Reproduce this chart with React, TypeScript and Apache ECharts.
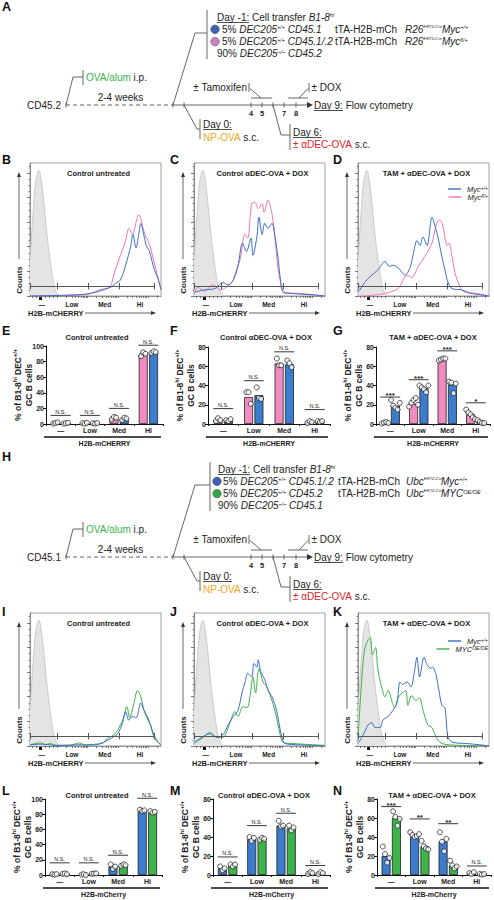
import React, { useEffect, useRef } from "react";
import * as echarts from "echarts";

const FONT = "'Liberation Sans', Arial, Helvetica, sans-serif";

// ---------------- Histogram data (x = % of H2B-mCHERRY axis, y = relative counts) ----------------
const gateLabels = ["—", "Low", "Med", "Hi"];
const gateLabelPos = [9, 32, 57, 84];
const gateBounds = [0.5, 21, 44.5, 68.5, 95];
const gateLevel = 8;

const isotypeCurve = [[0, 30], [2, 62], [4, 90], [6, 101], [7, 102], [8, 98], [10, 82], [12, 60], [14, 40], [16, 24], [18, 10], [20, 3], [22, 0.5], [26, 0], [100, 0]];

const B_blue = [[0, 0], [38, 1], [46, 2], [54, 5], [61.5, 7], [65, 10], [69, 13], [73, 25], [77, 41], [78.5, 50], [81, 39], [83, 50], [84.6, 59], [87, 49], [89, 40], [91, 37], [93, 29], [95, 21], [97.7, 14], [100, 5]];
const B_pink = [[0, 0], [38, 1], [54, 4], [61.5, 8], [63, 13], [65, 21], [69, 33], [73, 45], [75.4, 55], [77, 52], [78.5, 50], [81, 60], [83, 66], [84.6, 63], [86, 56], [88.5, 48], [90, 45], [92, 39], [94.6, 28], [97.7, 15], [100, 5]];

const C_blue = [[0, 3], [8, 5], [16, 6], [22, 11], [26, 9], [30, 13], [33.5, 24], [37, 43], [40, 36], [43.5, 47], [45, 33], [48, 48], [49.6, 64], [52, 50], [54, 59], [56.5, 55], [59.5, 59], [62, 47], [64, 32], [66, 13], [68, 3], [75, 2], [90, 1], [100, 0]];
const C_pink = [[0, 1], [3, 7], [8, 4], [14.5, 9], [20, 5], [29, 11], [31, 17], [35, 29], [39, 50], [41, 47], [44, 75], [46.5, 76], [49, 71], [52, 75], [53.5, 68], [56.5, 78], [59.5, 67], [62, 45], [64, 24], [67, 7], [69.5, 3], [82, 2], [100, 0]];

const D_blue = [[0, 3], [1.5, 5], [5, 11], [10.6, 17], [15, 21], [20.6, 28], [24, 24], [26.7, 25], [30.5, 23], [35.9, 17], [39.7, 23], [42, 33], [45, 45], [47.3, 41], [49.6, 48], [52.7, 41], [56.5, 64], [59.5, 54], [61, 48], [64, 32], [66.4, 21], [68.7, 11], [71.8, 6], [79, 5], [87, 2], [100, 0]];
const D_pink = [[0, 0], [10, 0.5], [20, 2], [30.5, 6], [37.4, 17], [41, 15], [46, 24], [51, 32], [56.5, 43], [60, 59], [62.6, 62], [64.9, 56], [68, 41], [69.5, 43], [71.8, 32], [74, 19], [78, 7], [81.7, 3], [91.6, 2], [100, 0]];

const I_blue = [[0, 1], [10, 1.5], [20, 0.5], [40, 1], [50, 1], [56, 3], [61.5, 6], [67, 10], [70.7, 19], [73, 28], [75.4, 21], [78, 24], [81, 23], [84.6, 35], [87, 29], [90, 23], [92, 17], [94.6, 9], [97.7, 3], [100, 1]];
const I_green = [[0, 1], [8, 2.5], [12, 1], [15, 2], [20, 0.5], [30, 0.5], [38, 2.5], [42, 0.5], [50, 1.5], [55, 2], [59, 6], [65, 10], [70.7, 21], [74, 32], [76, 23], [79, 33], [82, 45], [84.6, 40], [87, 29], [90, 21], [92, 17], [94.6, 7], [97.7, 3], [100, 1]];

const J_blue = [[0, 3], [4.6, 6], [12, 10], [17.5, 7], [22, 9], [26, 17], [30, 24], [33.6, 29], [36.6, 43], [39, 52], [41, 59], [44, 56], [45.8, 67], [48, 64], [49, 70], [51, 60], [54, 54], [56.5, 45], [59.5, 40], [63, 29], [67, 7], [69.5, 2], [80, 1], [100, 0]];
const J_green = [[0, 2], [7, 7], [12, 11], [17.5, 7], [22, 7], [27.5, 19], [31, 28], [33.6, 24], [37.4, 32], [40.5, 31], [42.7, 40], [45, 56], [47, 43], [49.6, 63], [52.7, 52], [55.7, 48], [58.8, 39], [62, 28], [65.6, 10], [68, 3], [75.6, 2], [100, 0.5]];

const K_blue = [[0, 2], [4, 9], [7.6, 17], [10.6, 19], [13, 15], [17, 15], [19, 21], [23, 24], [26.7, 29], [29.8, 35], [32, 52], [34, 50], [37.4, 52], [40.5, 48], [42.7, 58], [45, 72], [47, 56], [50.4, 72], [52.7, 66], [55.7, 63], [57, 64], [59.5, 58], [61.8, 45], [64, 33], [66.4, 31], [68.7, 7], [72.5, 3], [83, 2], [93, 1], [100, 0]];
const K_green = [[0, 7], [3, 56], [5, 78], [7.6, 86], [9.5, 88], [11, 74], [13.5, 80], [15, 63], [18, 48], [20.6, 40], [23, 45], [26, 36], [28, 31], [30.5, 39], [33.6, 43], [36.6, 45], [38, 33], [41, 41], [44, 37], [47, 39], [49.6, 29], [53.4, 17], [56.5, 15], [58.8, 9], [62.6, 3], [68.7, 1], [100, 0]];

// ---------------- Bar chart data (% of B1-8hi DEC+/+ GC B cells) ----------------
const barCategories = ["—", "Low", "Med", "Hi"];

const E_pink = [1, 1, 7, 89];
const E_blue = [1, 1, 6, 92];
const E_pinkPts = [[0.5, 1.5, 2], [1, 0.5, 1.5], [6, 9, 8], [87, 92, 90]];
const E_bluePts = [[0.5, 1, 1.5], [1, 0.5, 1.2], [5, 8, 7], [91, 93, 92]];
const E_sig = ["N.S.", "N.S.", "N.S.", "N.S."];
const E_sigY = [11, 11, 20, 101];

const F_pink = [4, 28, 63, 2];
const F_blue = [4, 30, 62, 3];
const F_pinkPts = [[3, 6, 4], [33, 33, 21], [68, 61, 61], [1, 3, 2]];
const F_bluePts = [[4, 3, 5], [38, 27, 26], [66, 63, 59], [3, 2, 3]];
const F_sig = ["N.S.", "N.S.", "N.S.", "N.S."];
const F_sigY = [16, 45, 75, 15];

const G_pink = [1, 21, 67, 10];
const G_blue = [19, 37, 41, 2];
const G_pinkPts = [[0.5, 1.5, 2, 1], [18, 22, 25, 27, 20], [66, 67, 68, 68], [15, 12, 10, 7, 5]];
const G_bluePts = [[25, 19, 17, 15, 22], [40, 38, 36, 33, 40], [44, 43, 32, 42], [4, 2, 1, 1]];
const G_sig = ["***", "***", "***", "*"];
const G_sigY = [28, 46, 76, 22];

const L_blue = [1, 1, 11, 84];
const L_green = [1, 2, 12, 82];
const L_bluePts = [[1, 0.5, 1], [0.5, 1, 0], [14, 8, 11], [86, 84, 85]];
const L_greenPts = [[1.5, 2, 1], [1.5, 2, 2], [12, 14, 13], [84, 82, 83]];
const L_sig = ["N.S.", "N.S.", "N.S.", "N.S."];
const L_sigY = [16, 16, 26, 101];

const M_blue = [7, 38, 52, 2];
const M_green = [10, 38, 49, 2];
const M_bluePts = [[9, 5, 7], [40, 36, 39], [57, 51, 52], [1, 3, 2]];
const M_greenPts = [[11, 9, 11], [37, 39, 38], [52, 47, 50], [1, 3, 2]];
const M_sig = ["N.S.", "N.S.", "N.S.", "N.S."];
const M_sigY = [19, 52, 65, 10];

const N_blue = [20, 41, 35, 2];
const N_green = [60, 30, 10, 1];
const N_bluePts = [[30, 22, 13, 18], [45, 42, 40, 41, 43], [45, 35, 25, 38], [2, 1, 3]];
const N_greenPts = [[67, 61, 52, 59], [36, 30, 28, 27], [15, 10, 7, 9], [1, 0.5, 1]];
const N_sig = ["***", "**", "**", "N.S."];
const N_sigY = [72, 59, 54, 9.5];

// ---------------- styles ----------------
const BLUE_LINE = "#3b6fc5";
const PINK_LINE = "#f274b5";
const GREEN_LINE = "#3fb34a";
const BLUE_BAR = "#3b7dcc";
const PINK_BAR = "#f08cc0";
const GREEN_BAR = "#3cb44b";
const TXT = "#222";
const LINE = "#555";

const HIST_W = 131;
const HIST_H = 133;

const histTickLinear = [2, 5, 8.5, 12, 15, 18];
const histDecades = [21, 44, 67, 90];
const histDecadeWidth = 23;

function histTickValues() {
  const t = [...histTickLinear];
  for (const d of histDecades) {
    for (let k = 1; k <= 9; k++) {
      const v = d + histDecadeWidth * Math.log10(k);
      if (v <= 100) t.push(+v.toFixed(2));
    }
  }
  return t;
}

const histPanels = [
  { left: 30, top: 163, title: "Control untreated", blue: B_blue, other: B_pink, otherColor: PINK_LINE, otherName: "Mycfl/+" },
  { left: 194, top: 163, title: "Control αDEC-OVA + DOX", blue: C_blue, other: C_pink, otherColor: PINK_LINE, otherName: "Mycfl/+" },
  { left: 358, top: 163, title: "TAM + αDEC-OVA + DOX", blue: D_blue, other: D_pink, otherColor: PINK_LINE, otherName: "Mycfl/+" },
  { left: 30, top: 613, title: "Control untreated", blue: I_blue, other: I_green, otherColor: GREEN_LINE, otherName: "MYCOE/OE" },
  { left: 194, top: 613, title: "Control αDEC-OVA + DOX", blue: J_blue, other: J_green, otherColor: GREEN_LINE, otherName: "MYCOE/OE" },
  { left: 358, top: 613, title: "TAM + αDEC-OVA + DOX", blue: K_blue, other: K_green, otherColor: GREEN_LINE, otherName: "MYCOE/OE" },
];

const barPanels = [
  { left: 46, top: 346, width: 117, height: 78, max: 100, s1: E_pink, s2: E_blue, c1: PINK_BAR, c2: BLUE_BAR, p1: E_pinkPts, p2: E_bluePts, sig: E_sig, sigY: E_sigY, xName: "H2B-mCHERRY", title: "Control untreated", tx: 97, ty: 337 },
  { left: 208, top: 347, width: 122, height: 77, max: 80, s1: F_pink, s2: F_blue, c1: PINK_BAR, c2: BLUE_BAR, p1: F_pinkPts, p2: F_bluePts, sig: F_sig, sigY: F_sigY, xName: "H2B-mCHERRY", title: "Control αDEC-OVA + DOX", tx: 266, ty: 337 },
  { left: 376, top: 347, width: 114, height: 77, max: 80, s1: G_pink, s2: G_blue, c1: PINK_BAR, c2: BLUE_BAR, p1: G_pinkPts, p2: G_bluePts, sig: G_sig, sigY: G_sigY, xName: "H2B-mCHERRY", title: "TAM + αDEC-OVA + DOX", tx: 433, ty: 337 },
  { left: 45, top: 799, width: 117, height: 76, max: 100, s1: L_blue, s2: L_green, c1: BLUE_BAR, c2: GREEN_BAR, p1: L_bluePts, p2: L_greenPts, sig: L_sig, sigY: L_sigY, xName: "H2B-mCherry", title: "Control untreated", tx: 97, ty: 795 },
  { left: 213, top: 799, width: 117, height: 76, max: 80, s1: M_blue, s2: M_green, c1: BLUE_BAR, c2: GREEN_BAR, p1: M_bluePts, p2: M_greenPts, sig: M_sig, sigY: M_sigY, xName: "H2B-mCherry", title: "Control αDEC-OVA + DOX", tx: 264, ty: 795 },
  { left: 377, top: 799, width: 114, height: 76, max: 80, s1: N_blue, s2: N_green, c1: BLUE_BAR, c2: GREEN_BAR, p1: N_bluePts, p2: N_greenPts, sig: N_sig, sigY: N_sigY, xName: "H2B-mCherry", title: "TAM + αDEC-OVA + DOX", tx: 432, ty: 795 },
];

const panelLetters: [string, number, number][] = [
  ["A", 2, 7], ["B", 2, 160], ["C", 170, 160], ["D", 333, 160],
  ["E", 2, 331], ["F", 170, 331], ["G", 333, 331], ["H", 2, 457],
  ["I", 2, 612], ["J", 170, 612], ["K", 333, 612],
  ["L", 2, 791], ["M", 170, 791], ["N", 333, 791],
];

const RICH: any = {
  i: { font: `italic 10px ${FONT}`, fill: TXT },
  s: { font: `italic 5.5px ${FONT}`, fill: TXT, verticalAlign: "top" },
  t: { font: `italic 4.2px ${FONT}`, fill: TXT, verticalAlign: "top" },
  u: { font: `10px ${FONT}`, fill: TXT },
  g: { font: `10px ${FONT}`, fill: "#3cb44b" },
  o: { font: `10px ${FONT}`, fill: "#f5a623" },
  r: { font: `10px ${FONT}`, fill: "#e2232a" },
};

type SchemCfg = {
  dy: number; host: string; barX: number; dayX: number; circleX: number; rowX: number; row3X: number;
  tX: number; creX: number; mycX: number; rows: string[]; tails: string[]; row3: string; circles: string[];
};

const schemA: SchemCfg = {
  dy: 0, host: "CD45.2", barX: 207, dayX: 217, circleX: 215, rowX: 222, row3X: 217, tX: 335, creX: 405, mycX: 442,
  rows: ["5% {i|DEC205}{s|+/+} {i|CD45.1}", "5% {i|DEC205}{s|+/+} {i|CD45.1/.2}"],
  tails: ["{i|Myc}{s|+/+}", "{i|Myc}{s|fl/+}"],
  row3: "90% {i|DEC205}{s|–/–} {i|CD45.2}",
  circles: ["#3f63b4", "#c882c4"],
};
const schemH: SchemCfg = {
  dy: 452, host: "CD45.1", barX: 210, dayX: 218, circleX: 217, rowX: 223, row3X: 218, tX: 338, creX: 406, mycX: 441,
  rows: ["5% {i|DEC205}{s|+/+} {i|CD45.1/.2}", "5% {i|DEC205}{s|+/+} {i|CD45.2}"],
  tails: ["{i|Myc}{s|+/+}", "{i|MYC}{s|OE/OE}"],
  row3: "90% {i|DEC205}{s|–/–} {i|CD45.1}",
  circles: ["#3f63b4", "#33a847"],
};

function schematic(c: SchemCfg, creTag: string) {
  const dy = c.dy;
  const st = { stroke: LINE, lineWidth: 0.9 };
  const line = (x1: number, y1: number, x2: number, y2: number, extra: any = {}) => ({
    type: "line", silent: true, shape: { x1, y1: y1 + dy, x2, y2: y2 + dy }, style: { ...st, ...extra },
  });
  const poly = (pts: number[][]) => ({
    type: "polyline", silent: true, shape: { points: pts.map(([x, y]) => [x, y + dy]) }, style: { ...st, fill: null },
  });
  const txt = (x: number, y: number, text: string, extra: any = {}) => ({
    type: "text", silent: true, x, y: y + dy,
    style: { text, font: `10px ${FONT}`, fill: TXT, align: "left", verticalAlign: "middle", rich: RICH, ...extra },
  });
  const ul = (x: number, y: number, w: number) => line(x, y, x + w, y, { stroke: TXT, lineWidth: 0.8 });
  const els: any[] = [];
  els.push(line(c.barX, 10, c.barX, 59));
  els.push(poly([[173, 105], [195, 33], [c.barX, 33]]));
  els.push(txt(c.dayX, 17, "{u|Day -1:} Cell transfer {i|B1-8}{s|hi}"));
  els.push(ul(c.dayX, 22.5, 32));
  const rowY = [29.3, 41.6];
  rowY.forEach((y, k) => {
    els.push({ type: "circle", silent: true, shape: { cx: c.circleX, cy: y + dy, r: 4.2 }, style: { fill: c.circles[k], stroke: "#333", lineWidth: 0.5 } });
    els.push(txt(c.rowX, y, c.rows[k]));
    els.push(txt(c.tX, y, "tTA-H2B-mCh"));
    els.push(txt(c.creX, y, `{i|${creTag}}{t|ERT2-Cre}`));
    els.push(txt(c.mycX, y, c.tails[k]));
  });
  els.push(txt(c.row3X, 53.9, c.row3));
  els.push(poly([[66, 105], [73, 77], [83, 77]]));
  els.push(line(83, 70, 83, 85));
  els.push(txt(86, 77.5, "{g|OVA/alum} i.p."));
  els.push(txt(61, 105, c.host, { align: "right" }));
  els.push(line(66, 102.5, 66, 107.5));
  els.push(line(66, 105, 173, 105, { lineDash: [4, 3] }));
  els.push(txt(120.5, 97.5, "2-4 weeks", { align: "center" }));
  els.push(line(173, 105, 308, 105));
  els.push({ type: "polygon", silent: true, shape: { points: [[307, 102 + dy], [313, 105 + dy], [307, 108 + dy]] }, style: { fill: "#333" } });
  [173, 184, 251, 262, 273, 284, 296].forEach((x) => els.push(line(x, 102.5, x, 107.5)));
  [[251, "4"], [262, "5"], [284, "7"], [296, "8"]].forEach(([x, s]) =>
    els.push(txt(x as number, 113.5, s as string, { align: "center", font: `bold 7.5px ${FONT}` }))
  );
  els.push(txt(314, 105, "{u|Day 9:} Flow cytometry"));
  els.push(ul(314, 110.5, 29));
  els.push(txt(247, 87.5, "± Tamoxifen", { align: "right" }));
  els.push(line(249, 83, 249, 92));
  els.push(line(250, 88.5, 261, 98));
  els.push(line(251, 98, 272, 98));
  els.push(line(309, 83, 309, 92));
  els.push(txt(311.5, 87.5, "± DOX"));
  els.push(line(308, 88.5, 299, 98));
  els.push(line(288, 98, 308, 98));
  els.push(poly([[184, 105], [197, 129], [200, 129]]));
  els.push(line(200, 119, 200, 139));
  els.push(txt(203, 124, "{u|Day 0:}"));
  els.push(ul(203, 129.5, 29));
  els.push(txt(203, 137, "{o|NP-OVA} s.c."));
  els.push(poly([[273, 105], [281, 135], [290, 135]]));
  els.push(line(290, 124, 290, 150));
  els.push(txt(293, 132, "{u|Day 6:}"));
  els.push(ul(293, 137.5, 29));
  els.push(txt(293, 144, "{r|± αDEC-OVA} s.c."));
  return els;
}

function legendFmt(name: string) {
  if (name === "Myc+/+") return "{m|Myc}{s|+/+}";
  if (name === "Mycfl/+") return "{m|Myc}{s|fl/+}";
  return "{m|MYC}{s|OE/OE}";
}

function buildOption() {
  const grids: any[] = [];
  const xAxes: any[] = [];
  const yAxes: any[] = [];
  const series: any[] = [];
  const graphics: any[] = [];
  const ticks = histTickValues();

  histPanels.forEach((p, gi) => {
    grids.push({ left: p.left, top: p.top, width: HIST_W, height: HIST_H, show: true, borderColor: "#a0a0a0", borderWidth: 1, outerBoundsMode: "none" });
    xAxes.push({
      gridIndex: gi, type: "value", min: 0, max: 100,
      axisLine: { show: true, lineStyle: { color: "#888", width: 1 } },
      axisTick: { show: true, customValues: ticks, length: 2, lineStyle: { color: "#444", width: 0.7 } },
      axisLabel: {
        show: true, customValues: gateLabelPos, margin: 5, fontSize: 6.5, fontWeight: "bold", color: TXT, fontFamily: FONT,
        formatter: (v: number) => { const k = gateLabelPos.indexOf(v); return k >= 0 ? gateLabels[k] : ""; },
      },
      splitLine: { show: false },
    });
    yAxes.push({
      gridIndex: gi, type: "value", min: 0, max: 108, interval: 20,
      axisLine: { show: true, lineStyle: { color: "#888", width: 1 } },
      axisTick: { show: true, customValues: [0, 20, 40, 60, 80, 100], length: 3, lineStyle: { color: "#444", width: 0.7 } },
      minorTick: { show: true, splitNumber: 4, length: 1.5, lineStyle: { color: "#444", width: 0.6 } },
      axisLabel: { show: false },
      splitLine: { show: false },
    });
    series.push({
      type: "line", name: "isotype", xAxisIndex: gi, yAxisIndex: gi, data: isotypeCurve, smooth: 0.3, symbol: "none",
      lineStyle: { color: "#c2c2c2", width: 0.8 }, areaStyle: { color: "#e4e4e4", opacity: 1 }, z: 1, silent: true,
      markLine: {
        silent: true, symbol: ["none", "none"], label: { show: false }, z: 6,
        lineStyle: { color: LINE, width: 1, type: "solid" },
        data: [
          [{ coord: [gateBounds[0], gateLevel] }, { coord: [gateBounds[gateBounds.length - 1], gateLevel] }],
          ...gateBounds.map((b) => [{ coord: [b, gateLevel - 2.6] }, { coord: [b, gateLevel + 2.6] }]),
        ],
      },
    });
    series.push({
      type: "line", name: p.otherName, xAxisIndex: gi, yAxisIndex: gi, data: p.other, smooth: 0.3, symbol: "none",
      color: p.otherColor, lineStyle: { color: p.otherColor, width: 1 }, z: 3, silent: true,
    });
    series.push({
      type: "line", name: "Myc+/+", xAxisIndex: gi, yAxisIndex: gi, data: p.blue, smooth: 0.3, symbol: "none",
      color: BLUE_LINE, lineStyle: { color: BLUE_LINE, width: 1 }, z: 4, silent: true,
    });
    const L = p.left, T = p.top, B = p.top + HIST_H;
    graphics.push({ type: "text", silent: true, x: L + HIST_W / 2 + 3, y: T + 10, style: { text: p.title, font: `bold 7.5px ${FONT}`, fill: TXT, align: "center", verticalAlign: "middle" } });
    graphics.push({ type: "text", silent: true, x: L - 11, y: T + 117, rotation: Math.PI / 2, style: { text: "Counts", font: `bold 8px ${FONT}`, fill: TXT, align: "center", verticalAlign: "middle" } });
    graphics.push({ type: "line", silent: true, shape: { x1: L - 11, y1: T + 96, x2: L - 11, y2: T + 13 }, style: { stroke: "#555", lineWidth: 0.9 } });
    graphics.push({ type: "polygon", silent: true, shape: { points: [[L - 11, T + 9], [L - 13, T + 14], [L - 9, T + 14]] }, style: { fill: "#333" } });
    graphics.push({ type: "text", silent: true, x: L - 2, y: B + 17, style: { text: "H2B-mCHERRY", font: `bold 7.5px ${FONT}`, fill: TXT, align: "left", verticalAlign: "middle" } });
    graphics.push({ type: "line", silent: true, shape: { x1: L + 55, y1: B + 17, x2: L + 122, y2: B + 17 }, style: { stroke: "#555", lineWidth: 0.9 } });
    graphics.push({ type: "polygon", silent: true, shape: { points: [[L + 126, B + 17], [L + 121, B + 15], [L + 121, B + 19]] }, style: { fill: "#333" } });
    graphics.push({ type: "rect", silent: true, shape: { x: L + 0.08 * HIST_W - 1.5, y: B + 1, width: 3, height: 3 }, style: { fill: "#111" } });
  });

  const BAR_W = 9;
  const BAR_GAP = 0.15;
  const groupOff = (BAR_W * (1 + BAR_GAP)) / 2;
  barPanels.forEach((p, k) => {
    const gi = histPanels.length + k;
    grids.push({ left: p.left, top: p.top, width: p.width, height: p.height, show: false, outerBoundsMode: "none" });
    xAxes.push({
      gridIndex: gi, type: "category", data: barCategories,
      axisLine: { show: true, lineStyle: { color: "#111", width: 1 } },
      axisTick: { show: true, length: 2, lineStyle: { color: "#111" } },
      axisLabel: { margin: 3, fontSize: 7, fontWeight: "bold", color: TXT, fontFamily: FONT },
      name: p.xName, nameLocation: "middle", nameGap: 15.5,
      nameTextStyle: { fontSize: 7, fontWeight: "bold", color: TXT, fontFamily: FONT },
    });
    yAxes.push({
      gridIndex: gi, type: "value", min: 0, max: p.max, interval: 20,
      axisLine: { show: true, lineStyle: { color: "#111", width: 1 } },
      axisTick: { show: true, length: 3, lineStyle: { color: "#111" } },
      axisLabel: { margin: 2, fontSize: 7, fontWeight: "bold", color: TXT, fontFamily: FONT },
      splitLine: { show: false },
      name: "% of B1-8{s|hi} DEC{s|+/+}\nGC B cells", nameLocation: "middle", nameRotate: 90, nameGap: 12, nameMoveOverlap: false,
      nameTextStyle: {
        fontSize: 8.5, fontWeight: "bold", color: TXT, fontFamily: FONT, lineHeight: 11,
        rich: { s: { fontSize: 5.5, fontWeight: "bold", color: TXT, fontFamily: FONT, verticalAlign: "top" } },
      },
    });
    const barStyle = (c: string) => ({ color: c, borderColor: "#222", borderWidth: 0.8 });
    series.push({ type: "bar", xAxisIndex: gi, yAxisIndex: gi, data: p.s1, barWidth: BAR_W, barGap: `${BAR_GAP * 100}%`, itemStyle: barStyle(p.c1), z: 2, silent: true });
    series.push({ type: "bar", xAxisIndex: gi, yAxisIndex: gi, data: p.s2, barWidth: BAR_W, barGap: `${BAR_GAP * 100}%`, itemStyle: barStyle(p.c2), z: 2, silent: true });
    const dots = (pts: number[][], off: number) =>
      pts.flatMap((arr, i) =>
        arr.map((v, j) => ({ value: [i, v], symbolOffset: [off + (j - (arr.length - 1) / 2) * 2.2, 0] }))
      );
    const dotStyle = { color: "#fff", borderColor: "#111", borderWidth: 0.9 };
    series.push({ type: "scatter", xAxisIndex: gi, yAxisIndex: gi, data: dots(p.p1, -groupOff), symbol: "circle", symbolSize: 5, itemStyle: dotStyle, z: 4, silent: true, clip: false });
    series.push({ type: "scatter", xAxisIndex: gi, yAxisIndex: gi, data: dots(p.p2, groupOff), symbol: "circle", symbolSize: 5, itemStyle: dotStyle, z: 4, silent: true, clip: false });
    const sigLabels = p.sig;
    series.push({
      type: "custom", coordinateSystem: "cartesian2d", xAxisIndex: gi, yAxisIndex: gi, silent: true, z: 5, clip: false,
      data: p.sigY.map((y, i) => [i, y]),
      renderItem: (params: any, api: any) => {
        const pt = api.coord([api.value(0), api.value(1)]);
        const lab = sigLabels[params.dataIndex];
        const star = lab !== "N.S.";
        return {
          type: "group",
          children: [
            { type: "line", shape: { x1: pt[0] - 10, y1: pt[1], x2: pt[0] + 10, y2: pt[1] }, style: { stroke: "#222", lineWidth: 0.9 } },
            {
              type: "text",
              style: {
                text: lab, x: pt[0], y: star ? pt[1] + 2.6 : pt[1] - 0.6, align: "center", verticalAlign: "bottom",
                font: star ? `bold 8px ${FONT}` : `5.5px ${FONT}`, fill: "#222",
              },
            },
          ],
        };
      },
    });
    const bottom = p.top + p.height;
    graphics.push({ type: "line", silent: true, shape: { x1: p.left - 2, y1: bottom + 13, x2: p.left + p.width - 2, y2: bottom + 13 }, style: { stroke: "#111", lineWidth: 1.6 } });
    graphics.push({ type: "text", silent: true, x: p.tx, y: p.ty, style: { text: p.title, font: `bold 7.5px ${FONT}`, fill: TXT, align: "center", verticalAlign: "middle" } });
  });

  panelLetters.forEach(([s, x, y]) =>
    graphics.push({ type: "text", silent: true, x, y, style: { text: s, font: `bold 12.5px ${FONT}`, fill: "#111", align: "left", verticalAlign: "middle" } })
  );

  graphics.push(...schematic(schemA, "R26"));
  graphics.push(...schematic(schemH, "Ubc"));

  const legendCommon = {
    orient: "horizontal", icon: "rect", itemWidth: 13, itemHeight: 1.4, padding: 0, itemGap: 0, selectedMode: false,
    formatter: legendFmt,
    textStyle: {
      fontSize: 7.5, fontStyle: "italic", color: TXT, fontFamily: FONT, padding: [0, 0, 0, 1],
      rich: {
        m: { fontSize: 7.5, fontStyle: "italic", color: TXT, fontFamily: FONT },
        s: { fontSize: 5, fontStyle: "italic", color: TXT, fontFamily: FONT, verticalAlign: "top" },
      },
    },
  };

  return {
    animation: false,
    backgroundColor: "#fff",
    textStyle: { fontFamily: FONT },
    grid: grids,
    xAxis: xAxes,
    yAxis: yAxes,
    series,
    legend: [
      { ...legendCommon, data: ["Myc+/+"], right: 6, top: 185 },
      { ...legendCommon, data: ["Mycfl/+"], right: 6, top: 193 },
      { ...legendCommon, data: ["Myc+/+"], right: 6, top: 637 },
      { ...legendCommon, data: ["MYCOE/OE"], right: 6, top: 645 },
    ],
    graphic: graphics,
  };
}

export default function App() {
  const ref = useRef<HTMLDivElement>(null);
  useEffect(() => {
    if (!ref.current) return;
    const chart = echarts.init(ref.current, undefined, { renderer: "svg", width: 494, height: 900 });
    chart.setOption(buildOption() as any);
    return () => chart.dispose();
  }, []);
  return (
    <div
      ref={ref}
      style={{ position: "fixed", left: 0, top: 0, width: 494, height: 900, background: "#fff" }}
    />
  );
}
